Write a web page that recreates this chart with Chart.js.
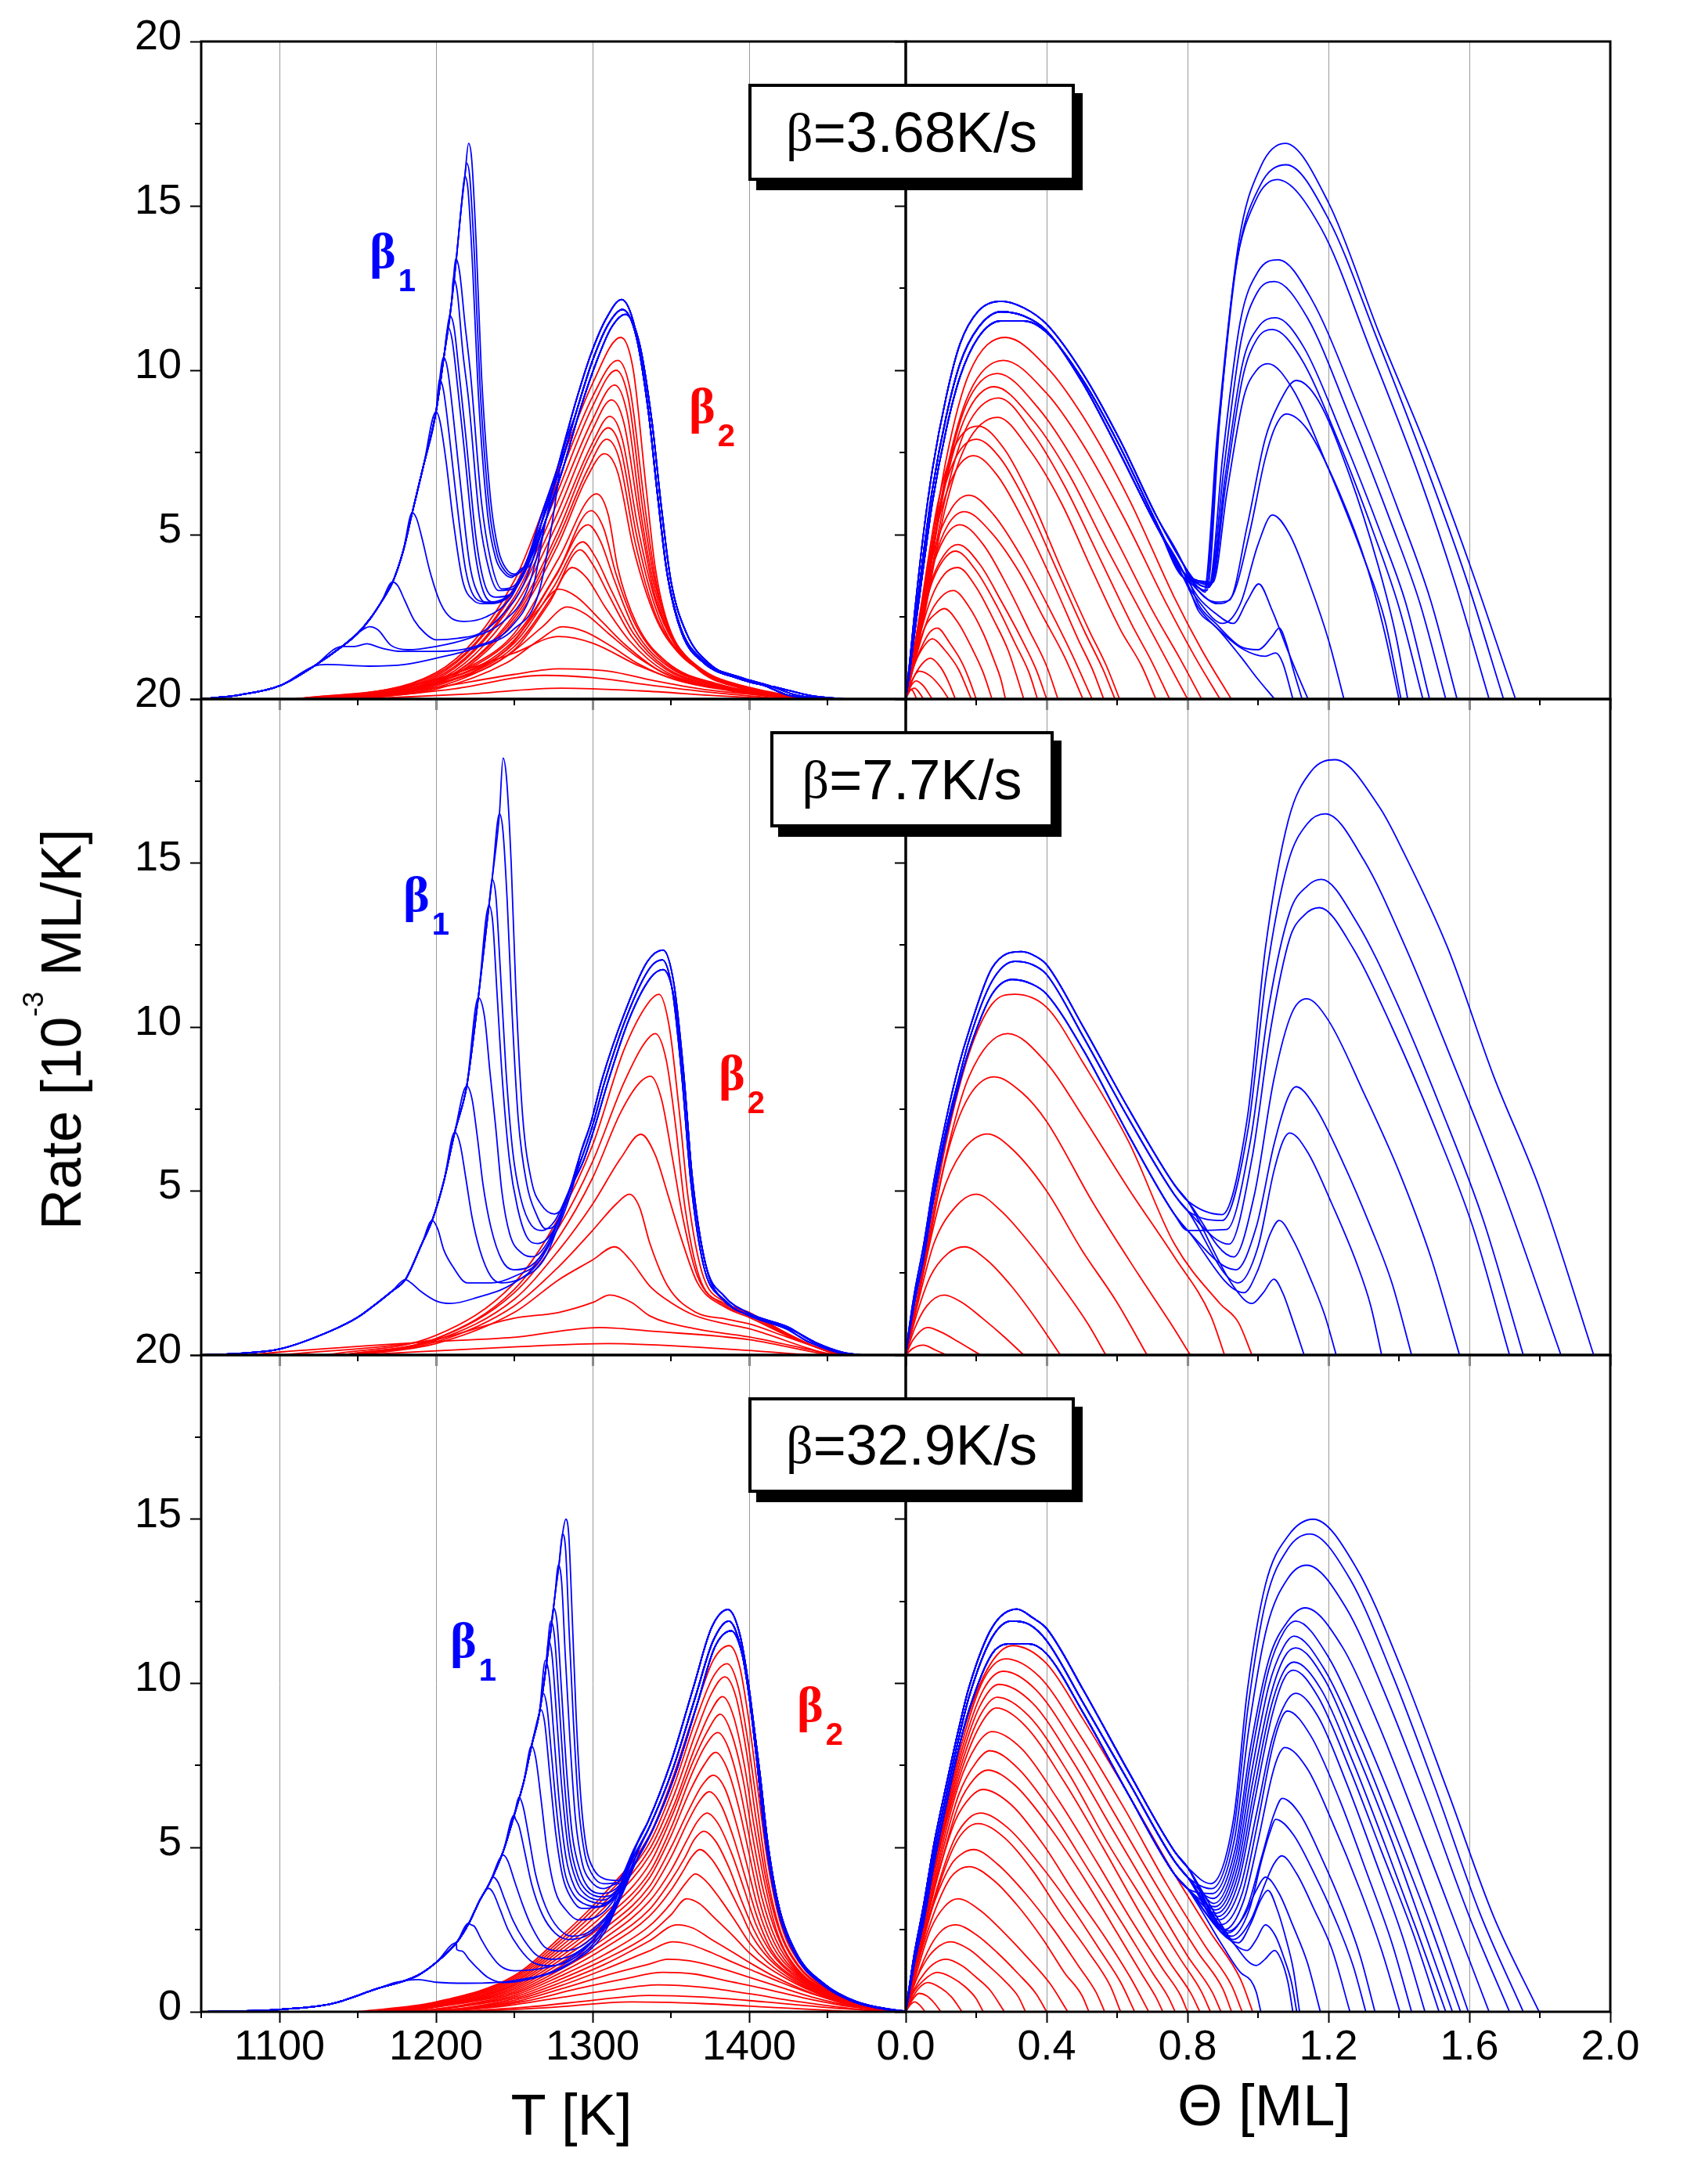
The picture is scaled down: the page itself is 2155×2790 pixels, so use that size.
<!DOCTYPE html>
<html>
<head>
<meta charset="utf-8">
<title>Desorption rate vs T and coverage</title>
<script src="https://cdn.jsdelivr.net/npm/chart.js@4.4.1/dist/chart.umd.min.js"></script>
<style>
  html, body { margin: 0; padding: 0; background: #fff; }
  body { position: relative; width: 2155px; height: 2790px; overflow: hidden;
         font-family: "Liberation Sans", Arial, sans-serif; color: #000; }
  canvas { position: absolute; }
  .rate-box { position: absolute; z-index: 5; box-sizing: border-box; border: 4px solid #000;
              background: #fff; box-shadow: 10px 12px 0 #000; display: flex;
              align-items: center; justify-content: center; font-size: 72px; line-height: 1; }
  .rate-box .g { font-family: "Liberation Serif", "DejaVu Serif", serif; font-size: 68px; }
  .peak { position: absolute; z-index: 5; font-family: "Liberation Serif", "DejaVu Serif", serif;
          font-weight: bold; font-size: 64px; line-height: 1; white-space: nowrap; }
  .peak span { font-family: "Liberation Sans", Arial, sans-serif; font-size: 40px;
               position: relative; top: 30px; margin-left: 3px; }
  .blue { color: #0000ff; }
  .red { color: #ff0000; }
  .axis-title { position: absolute; z-index: 5; font-size: 74px; line-height: 1; white-space: nowrap; }
  .sup { font-size: 36px; position: relative; top: -48px; }
</style>
</head>
<body>

<div class="rate-box" style="left:956px;top:107px;width:417px;height:124px"><span class="g">β</span>=3.68K/s</div>
<div class="rate-box" style="left:984px;top:934px;width:362px;height:123px"><span class="g">β</span>=7.7K/s</div>
<div class="rate-box" style="left:956px;top:1785px;width:417px;height:122px"><span class="g">β</span>=32.9K/s</div>

<div class="peak blue" style="left:472px;top:289px">β<span>1</span></div>
<div class="peak red" style="left:880px;top:487px">β<span>2</span></div>
<div class="peak blue" style="left:515px;top:1111px">β<span>1</span></div>
<div class="peak red" style="left:918px;top:1339px">β<span>2</span></div>
<div class="peak blue" style="left:575px;top:2064px">β<span>1</span></div>
<div class="peak red" style="left:1018px;top:2146px">β<span>2</span></div>

<div class="axis-title" style="left:730px;top:2665px;transform:translateX(-50%)">T [K]</div>
<div class="axis-title" style="left:1615px;top:2653px;transform:translateX(-50%)">Θ [ML]</div>
<div class="axis-title" style="font-size:72px;left:78px;top:1315px;transform:translate(-50%,-50%) rotate(-90deg)">Rate [10<span class="sup">-3</span> ML/K]</div>

<script>
// axes
const tempTicks = [1100, 1200, 1300, 1400];
const tempMinor = [1050, 1150, 1250, 1350, 1450];
const covTicks = [0, 0.4, 0.8, 1.2, 1.6, 2.0];
const covMinor = [0.2, 0.6, 1.0, 1.4, 1.8];
const rateTicks = [0, 5, 10, 15, 20];
const rateMinor = [2.5, 7.5, 12.5, 17.5];

// ---------- beta = 3.68 K/s, rate vs T ----------
const tlBlueEdge = [[1050,0],[1075,0.13],[1100,0.4],[1122,1.0],[1140,1.6],[1150,2.0],[1158,2.45],[1165,2.95],[1172.3,3.56],[1179,4.5],[1184.8,5.67],[1192,7.1],[1200,8.74],[1205,10.4],[1210,12.1],[1213,13.4],[1216,14.9],[1218.4,15.9],[1220.8,16.9]];
const tlBlueHead = [
  [[1220.8,16.9],[1222.8,16.4],[1225.7,13.8],[1229,9.9],[1235,6.0],[1240,4.5],[1245,3.95],[1250,3.8],[1256,4.0]],
  [[1219.5,16.3],[1221.5,15.9],[1224.5,13.5],[1228,9.6],[1234,5.8],[1239,4.4],[1244,3.9],[1249,3.75],[1256,4.0]],
  [[1218.4,15.9],[1220.4,15.5],[1223.5,13.0],[1227,9.3],[1233,5.6],[1238,4.3],[1243,3.85],[1248,3.7],[1256,4.0]],
  [[1212.6,13.4],[1215,13.0],[1218.5,11.4],[1222,9.9],[1229,6.0],[1235,4.2],[1242,3.35],[1250,3.45],[1258,4.1]],
  [[1211,12.8],[1213.5,12.4],[1217,10.6],[1221,9.0],[1227.5,5.6],[1234,3.9],[1240,3.3],[1249,3.35],[1258,4.1]],
  [[1209,11.65],[1211.5,11.3],[1215,9.8],[1219,8.0],[1225.5,4.9],[1231,3.5],[1238,3.1],[1248,3.2],[1258,4.05]],
  [[1207.7,11.3],[1210.2,10.95],[1214,9.4],[1218,7.6],[1224.5,4.6],[1230,3.3],[1237,2.95],[1247,3.15],[1258,4.0]],
  [[1204.8,10.4],[1207.3,10.05],[1211,8.6],[1215,6.8],[1221.5,4.1],[1228,3.1],[1235,2.9],[1246,3.1],[1258,4.0]],
  [[1202.2,9.72],[1204.7,9.4],[1208.5,8.0],[1212.5,6.3],[1219,3.9],[1225.5,3.05],[1232,2.95],[1245,3.1],[1258,4.0]],
  [[1200,8.74],[1202.5,8.45],[1206.5,7.2],[1210.5,5.6],[1217,3.6],[1224,3.0],[1230,2.9],[1244,3.05],[1258,4.0]],
  [[1184.8,5.67],[1187.5,5.5],[1191,4.9],[1196,3.9],[1203,2.9],[1210,2.45],[1218,2.36],[1232,2.5],[1248,3.1],[1260,4.3]],
  [[1172.3,3.56],[1175.5,3.45],[1180,3.0],[1186,2.4],[1193,2.0],[1200,1.8],[1214,1.85],[1228,2.0],[1243,2.6],[1256,3.5],[1266,5.0]],
  [[1157.5,2.2],[1163,2.1],[1171,1.64],[1182,1.5],[1200,1.6],[1220,1.83],[1243,2.36],[1258,3.3],[1268,5.0]],
  [[1148,1.6],[1155.7,1.68],[1165,1.55],[1178,1.45],[1200,1.45],[1225,1.6],[1248,2.2],[1262,3.4],[1270,5.4]],
  [[1130,1.05],[1157,1.0],[1180,1.05],[1200,1.24],[1226,1.57],[1249,2.1],[1266,3.3],[1278,6.6]]
];
const tlBlueB2 = [
  [[1256,4.0],[1267,5.3],[1279,7.0],[1290,8.8],[1300,10.3],[1310,11.4],[1319,11.85],[1328,11.0],[1336,8.6],[1342,6.0],[1348,3.7],[1357,2.0],[1371,1.1],[1395,0.6],[1410,0.4],[1424,0.13],[1440,0]],
  [[1256,4.1],[1266,5.4],[1278,7.1],[1289,9.0],[1299,10.5],[1309,11.6],[1318.5,12.15],[1327,11.3],[1335,9.0],[1341,6.4],[1347,4.0],[1356,2.2],[1370,1.2],[1395,0.65],[1412,0.42],[1430,0.12],[1450,0]],
  [[1258,4.0],[1269,5.3],[1281,7.0],[1292,8.8],[1302,10.2],[1312,11.3],[1321,11.7],[1330,10.8],[1338,8.4],[1344,5.8],[1350,3.6],[1360,2.0],[1374,1.1],[1398,0.55],[1418,0.35],[1440,0.1],[1462,0]]
];
const tlBlueVar = [1,0,2,0,1,2,0,2,1,0,2,0,1,2,0];
const tlRed = [
  [[1110,0],[1200,0.8],[1250,3.6],[1275,6.6],[1300,9.6],[1318,11.0],[1326,10.0],[1334,6.5],[1340,4.0],[1348,2.3],[1366,1.0],[1395,0.33],[1425,0]],
  [[1110,0],[1200,0.75],[1250,3.4],[1275,6.3],[1300,9.2],[1316,10.3],[1324,9.4],[1333,6.0],[1340,3.7],[1348,2.2],[1366,0.95],[1395,0.32],[1428,0]],
  [[1115,0],[1200,0.7],[1250,3.3],[1275,6.0],[1300,8.9],[1315,10.0],[1323,9.1],[1332,5.8],[1340,3.5],[1350,2.0],[1367,0.95],[1395,0.35],[1430,0]],
  [[1115,0],[1200,0.65],[1250,3.1],[1275,5.7],[1300,8.5],[1314,9.55],[1322,8.7],[1331,5.6],[1340,3.3],[1350,1.9],[1368,0.9],[1398,0.35],[1432,0]],
  [[1120,0],[1200,0.6],[1250,3.0],[1277,5.6],[1300,8.2],[1312,9.1],[1320,8.4],[1330,5.5],[1340,3.1],[1352,1.8],[1370,0.9],[1400,0.35],[1435,0]],
  [[1120,0],[1200,0.55],[1250,2.8],[1277,5.3],[1300,7.8],[1311,8.6],[1319,7.9],[1329,5.2],[1340,3.0],[1352,1.7],[1370,0.85],[1400,0.32],[1435,0]],
  [[1125,0],[1200,0.5],[1252,2.7],[1278,5.1],[1298,7.4],[1310,8.25],[1318,7.6],[1328,5.0],[1340,2.8],[1352,1.6],[1372,0.8],[1402,0.3],[1438,0]],
  [[1125,0],[1200,0.5],[1252,2.6],[1278,4.9],[1297,7.0],[1309,7.9],[1317,7.3],[1327,4.8],[1340,2.6],[1354,1.5],[1372,0.8],[1402,0.3],[1438,0]],
  [[1130,0],[1200,0.45],[1252,2.5],[1278,4.7],[1296,6.7],[1307.5,7.46],[1316,6.9],[1326,4.6],[1340,2.5],[1354,1.45],[1374,0.75],[1405,0.3],[1440,0]],
  [[1130,0],[1200,0.6],[1222,1.0],[1250,2.0],[1278,4.25],[1302.6,6.24],[1310,5.6],[1316,4.0],[1328,2.3],[1348,1.1],[1380,0.46],[1424,0.07],[1440,0]],
  [[1130,0],[1200,0.55],[1250,1.9],[1278,3.9],[1299,5.73],[1307,5.2],[1315,3.8],[1328,2.2],[1348,1.05],[1380,0.45],[1425,0.06],[1440,0]],
  [[1135,0],[1200,0.5],[1250,1.8],[1276,3.7],[1297,5.3],[1305,4.8],[1314,3.6],[1327,2.1],[1348,1.0],[1380,0.42],[1430,0]],
  [[1135,0],[1200,0.5],[1250,1.7],[1275,3.4],[1293.6,4.78],[1302,4.3],[1312,3.3],[1326,2.0],[1347,0.95],[1380,0.4],[1430,0]],
  [[1140,0],[1200,0.45],[1250,1.6],[1275,3.2],[1292,4.54],[1300,4.1],[1311,3.1],[1325,1.9],[1347,0.9],[1380,0.38],[1430,0]],
  [[1140,0],[1200,0.45],[1250,1.5],[1272,2.9],[1287,4.0],[1296,3.7],[1308,2.8],[1324,1.75],[1346,0.85],[1380,0.35],[1430,0]],
  [[1140,0],[1200,0.4],[1245,1.5],[1265,2.7],[1278.5,3.34],[1290,3.1],[1305,2.4],[1322,1.6],[1345,0.8],[1380,0.33],[1430,0]],
  [[1145,0],[1200,0.35],[1245,1.3],[1268,2.2],[1283.7,2.8],[1295,2.6],[1310,2.0],[1328,1.3],[1350,0.7],[1385,0.3],[1430,0]],
  [[1145,0],[1200,0.3],[1245,1.1],[1266,1.8],[1281,2.2],[1295,2.05],[1312,1.6],[1330,1.05],[1352,0.6],[1388,0.25],[1430,0]],
  [[1150,0],[1200,0.6],[1250,1.4],[1278.5,1.9],[1300,1.7],[1330,1.0],[1360,0.5],[1400,0.2],[1430,0]],
  [[1150,0],[1200,0.35],[1250,0.75],[1278.5,0.92],[1310,0.85],[1340,0.55],[1370,0.3],[1410,0.1],[1430,0]],
  [[1150,0],[1210,0.3],[1269,0.72],[1300,0.65],[1340,0.4],[1380,0.18],[1425,0]],
  [[1150,0],[1220,0.15],[1280,0.33],[1330,0.25],[1380,0.1],[1420,0]]
];

// ---------- beta = 3.68 K/s, rate vs coverage ----------
const trBlueHump = [
  [[0,0],[0.012,1.0],[0.025,2.2],[0.05,4.4],[0.076,6.4],[0.115,8.6],[0.154,10.2],[0.206,11.3],[0.27,11.78],[0.335,11.65],[0.4,11.2],[0.503,9.6],[0.607,7.5],[0.71,5.3],[0.788,3.86]],
  [[0,0],[0.012,1.2],[0.025,2.6],[0.05,5.0],[0.076,7.0],[0.115,9.2],[0.154,10.8],[0.206,11.8],[0.27,12.1],[0.335,11.9],[0.4,11.4],[0.503,9.9],[0.607,7.9],[0.71,5.6],[0.788,4.1]],
  [[0,0],[0.012,0.9],[0.025,2.0],[0.05,4.0],[0.076,6.0],[0.115,8.2],[0.154,9.8],[0.206,11.0],[0.27,11.5],[0.335,11.5],[0.4,11.15],[0.503,9.7],[0.607,7.7],[0.71,5.4],[0.788,3.7]]
];
const trBlueTail = [
  [[0.83,3.4],[0.855,3.3],[0.892,8.6],[0.944,13.8],[1.008,16.2],[1.077,16.9],[1.2,15.1],[1.345,11.1],[1.487,7.4],[1.604,4.0],[1.731,0]],
  [[0.83,3.4],[0.85,3.25],[0.888,8.2],[0.94,13.3],[1.005,15.6],[1.08,16.25],[1.2,14.6],[1.34,10.9],[1.48,7.0],[1.59,3.7],[1.697,0]],
  [[0.83,3.4],[0.847,3.3],[0.884,8.0],[0.935,13.0],[0.995,15.2],[1.054,15.8],[1.18,14.3],[1.32,10.6],[1.46,6.7],[1.56,3.5],[1.656,0]],
  [[0.83,3.5],[0.86,3.4],[0.9,7.4],[0.95,11.5],[1.0,13.0],[1.058,13.36],[1.15,12.2],[1.28,9.0],[1.4,5.7],[1.49,3.0],[1.565,0]],
  [[0.83,3.5],[0.862,3.4],[0.903,7.0],[0.952,10.9],[0.997,12.35],[1.047,12.7],[1.14,11.6],[1.26,8.6],[1.38,5.3],[1.46,2.9],[1.533,0]],
  [[0.83,3.55],[0.865,3.45],[0.906,6.7],[0.956,10.2],[1.0,11.3],[1.05,11.6],[1.13,10.7],[1.24,8.0],[1.35,5.0],[1.42,2.9],[1.487,0]],
  [[0.83,3.6],[0.868,3.5],[0.908,6.5],[0.957,9.8],[0.997,10.95],[1.041,11.24],[1.12,10.4],[1.23,7.8],[1.33,5.0],[1.40,2.8],[1.468,0]],
  [[0.83,3.6],[0.872,3.55],[0.912,6.3],[0.96,9.2],[0.996,10.0],[1.028,10.2],[1.1,9.4],[1.2,7.0],[1.3,4.3],[1.36,2.4],[1.406,0]],
  [[0.83,3.3],[0.88,2.95],[0.918,3.0],[0.97,5.3],[1.02,7.9],[1.06,9.0],[1.109,9.69],[1.17,9.1],[1.26,6.8],[1.34,4.1],[1.39,2.0],[1.425,0]],
  [[0.83,3.3],[0.885,2.9],[0.925,3.1],[0.975,5.0],[1.02,7.3],[1.05,8.3],[1.08,8.67],[1.14,8.2],[1.23,6.3],[1.31,4.0],[1.36,2.0],[1.40,0]],
  [[0.83,3.0],[0.9,2.3],[0.95,2.9],[1.0,4.7],[1.041,5.6],[1.09,5.0],[1.15,3.4],[1.2,1.8],[1.244,0]],
  [[0.83,3.1],[0.88,2.6],[0.93,2.3],[0.97,3.0],[1.002,3.5],[1.04,2.7],[1.08,1.6],[1.11,0.8],[1.142,0]],
  [[0.83,2.9],[0.88,2.3],[0.95,1.6],[1.0,1.5],[1.04,1.9],[1.06,2.16],[1.08,1.7],[1.1,0.9],[1.125,0]],
  [[0.83,2.8],[0.9,2.0],[0.96,1.5],[1.02,1.3],[1.05,1.4],[1.07,1.1],[1.099,0]],
  [[0.83,2.7],[0.88,2.2],[0.95,1.3],[1.0,0.6],[1.047,0]]
];
const trBlueVar = [1,0,2,0,1,2,0,2,1,0,2,0,1,2,0];
const trRed = [
  [[0,0],[0.05,3.0],[0.115,7.3],[0.18,9.9],[0.283,11.0],[0.4,10.1],[0.503,8.6],[0.633,6.1],[0.762,3.1],[0.84,1.5],[0.924,0]],
  [[0,0],[0.05,2.8],[0.115,6.9],[0.18,9.3],[0.277,10.3],[0.4,9.3],[0.5,7.8],[0.62,5.5],[0.74,2.9],[0.82,1.3],[0.892,0]],
  [[0,0],[0.05,2.7],[0.11,6.5],[0.17,8.9],[0.26,9.9],[0.38,8.8],[0.48,7.2],[0.6,4.8],[0.7,2.7],[0.78,1.2],[0.84,0]],
  [[0,0],[0.05,2.7],[0.11,6.4],[0.17,8.6],[0.251,9.5],[0.36,8.5],[0.46,6.9],[0.57,4.6],[0.67,2.6],[0.74,1.2],[0.80,0]],
  [[0,0],[0.05,2.5],[0.11,6.0],[0.17,8.2],[0.264,9.16],[0.36,8.1],[0.45,6.5],[0.55,4.3],[0.64,2.3],[0.70,1.1],[0.749,0]],
  [[0,0],[0.05,2.4],[0.11,5.7],[0.17,7.7],[0.261,8.57],[0.35,7.6],[0.44,6.0],[0.53,3.9],[0.61,2.1],[0.67,1.0],[0.71,0]],
  [[0,0],[0.04,2.6],[0.09,5.9],[0.14,7.7],[0.206,8.3],[0.28,7.6],[0.36,6.0],[0.44,4.0],[0.52,2.1],[0.57,1.0],[0.607,0]],
  [[0,0],[0.04,2.5],[0.09,5.6],[0.14,7.3],[0.2,7.9],[0.27,7.3],[0.35,5.8],[0.43,3.9],[0.51,2.0],[0.56,0.9],[0.594,0]],
  [[0,0],[0.04,2.4],[0.09,5.3],[0.14,6.9],[0.193,7.4],[0.26,6.8],[0.34,5.3],[0.42,3.5],[0.49,1.8],[0.53,0.9],[0.562,0]],
  [[0,0],[0.035,2.1],[0.08,4.5],[0.13,5.8],[0.18,6.2],[0.25,5.6],[0.33,4.3],[0.41,2.7],[0.47,1.4],[0.529,0]],
  [[0,0],[0.035,2.0],[0.08,4.2],[0.12,5.3],[0.167,5.7],[0.24,5.1],[0.32,3.9],[0.39,2.5],[0.45,1.3],[0.503,0]],
  [[0,0],[0.03,1.8],[0.07,3.8],[0.11,4.9],[0.154,5.3],[0.22,4.7],[0.29,3.4],[0.35,2.1],[0.4,1.0],[0.432,0]],
  [[0,0],[0.03,1.7],[0.07,3.5],[0.11,4.4],[0.148,4.7],[0.21,4.1],[0.27,3.0],[0.33,1.8],[0.37,0.9],[0.40,0]],
  [[0,0],[0.03,1.6],[0.07,3.4],[0.105,4.2],[0.141,4.5],[0.2,3.9],[0.26,2.8],[0.31,1.7],[0.35,0.8],[0.374,0]],
  [[0,0],[0.03,1.5],[0.07,3.0],[0.11,3.8],[0.148,4.0],[0.2,3.4],[0.25,2.4],[0.29,1.5],[0.315,0.7],[0.335,0]],
  [[0,0],[0.03,1.3],[0.065,2.5],[0.1,3.1],[0.135,3.3],[0.18,2.8],[0.22,2.0],[0.25,1.2],[0.27,0.6],[0.283,0]],
  [[0,0],[0.025,1.2],[0.055,2.2],[0.085,2.6],[0.109,2.75],[0.15,2.3],[0.19,1.5],[0.22,0.8],[0.245,0]],
  [[0,0],[0.02,0.9],[0.05,1.7],[0.07,2.05],[0.09,2.16],[0.125,1.7],[0.16,1.1],[0.18,0.6],[0.2,0]],
  [[0,0],[0.02,0.9],[0.045,1.5],[0.076,1.83],[0.11,1.5],[0.15,0.9],[0.186,0]],
  [[0,0],[0.02,0.6],[0.045,1.05],[0.07,1.24],[0.1,0.95],[0.12,0.55],[0.141,0]],
  [[0,0],[0.015,0.5],[0.038,0.85],[0.07,0.7],[0.1,0.35],[0.122,0]],
  [[0,0],[0.015,0.4],[0.03,0.55],[0.05,0.4],[0.075,0]],
  [[0,0],[0.012,0.25],[0.025,0.33],[0.038,0.2],[0.05,0]],
  [[0,0],[0.012,0.3],[0.02,0.25],[0.031,0]]
];

// ---------- beta = 7.7 K/s, rate vs T ----------
const mlBlueEdge = [[1050,0],[1075,0.05],[1100,0.18],[1133,0.74],[1150,1.15],[1162,1.57],[1172,1.95],[1180.4,2.3],[1191,3.4],[1197.5,4.1],[1205,5.3],[1212,6.8],[1219.6,8.2],[1227,10.9],[1233.8,13.7],[1235.8,14.5],[1240.5,16.5],[1242.8,18.2]];
const mlBlueHead = [
  [[1242.8,18.2],[1245,17.6],[1248,15.0],[1251,11.1],[1255.3,7.3],[1261,5.3],[1267,4.6],[1275.6,4.3],[1282,4.6]],
  [[1240.5,16.5],[1242.7,16.0],[1245.5,13.8],[1248.5,10.5],[1252.5,7.2],[1258,5.2],[1264,4.3],[1270,3.85],[1277,4.0],[1284,4.9]],
  [[1235.8,14.5],[1238.2,14.0],[1241,11.8],[1244.5,8.8],[1249,6.2],[1254,4.8],[1261,3.95],[1268,3.8],[1276,4.1],[1284,4.9]],
  [[1233.8,13.7],[1236.2,13.2],[1239,11.0],[1242.5,8.3],[1247,5.9],[1252,4.5],[1258,3.6],[1265,3.4],[1275,3.8],[1285,5.0]],
  [[1227,10.9],[1231,10.3],[1234.5,8.6],[1238,7.0],[1242,5.0],[1247,3.7],[1255,3.1],[1262,3.0],[1272,3.5],[1285,5.0]],
  [[1219.6,8.2],[1223,7.8],[1226.5,6.6],[1230,5.2],[1235,3.9],[1242,2.9],[1249.5,2.6],[1260,2.7],[1272,3.4],[1286,5.1]],
  [[1212,6.8],[1215.5,6.4],[1219,5.4],[1223,4.2],[1228,3.2],[1235,2.4],[1242,2.2],[1255,2.35],[1270,3.0],[1287,5.2]],
  [[1197.5,4.1],[1201,3.85],[1205,3.2],[1210,2.75],[1220,2.2],[1235,2.2],[1250,2.4],[1268,3.0],[1288,5.3]],
  [[1180.4,2.3],[1184,2.2],[1190,1.95],[1200,1.65],[1209,1.57],[1226,1.75],[1250,2.2],[1268,3.0],[1289,5.4]]
];
const mlBlueB2 = [
  [[1282,4.6],[1293,6.0],[1300,7.0],[1307.5,8.3],[1322,10.35],[1336.6,11.8],[1344.5,12.05],[1351,11.1],[1357,8.5],[1362.7,5.3],[1371,2.7],[1383,1.7],[1400,1.2],[1423.6,0.8],[1438,0.4],[1455,0.1],[1468,0]],
  [[1281,4.7],[1292,6.1],[1299,7.1],[1306,8.4],[1321,10.5],[1335,12.0],[1345,12.35],[1352,11.3],[1358,8.7],[1363.5,5.5],[1372,2.8],[1384,1.8],[1401,1.25],[1425,0.85],[1440,0.42],[1457,0.1],[1470,0]],
  [[1283,4.5],[1294,5.9],[1301,6.9],[1309,8.2],[1323,10.2],[1337,11.5],[1345,11.75],[1352,10.9],[1358.5,8.3],[1364,5.2],[1373,2.6],[1386,1.6],[1404,1.15],[1428,0.75],[1444,0.35],[1460,0.08],[1472,0]]
];
const mlBlueVar = [1,0,2,0,1,2,0,2,1];
const mlRed = [
  [[1130,0],[1200,0.6],[1250,2.2],[1278.5,4.2],[1300,6.4],[1320,9.3],[1335,10.7],[1342.4,11.0],[1349,10.0],[1355,7.6],[1361,4.8],[1370,2.5],[1385,1.6],[1400,1.3],[1424,0.67],[1445,0.2],[1460,0]],
  [[1140,0],[1200,0.5],[1250,2.0],[1278.5,3.9],[1300,5.9],[1320,8.3],[1333,9.5],[1340,9.8],[1347,9.0],[1353,7.0],[1359,4.5],[1368,2.4],[1385,1.55],[1400,1.25],[1424,0.65],[1445,0.2],[1458,0]],
  [[1140,0],[1200,0.5],[1250,1.9],[1278.5,3.6],[1300,5.4],[1318,7.4],[1330,8.3],[1337,8.5],[1344,7.8],[1351,6.0],[1358,4.1],[1367,2.4],[1385,1.5],[1400,1.2],[1424,0.63],[1445,0.2],[1458,0]],
  [[1145,0],[1200,0.45],[1250,1.7],[1278.5,3.2],[1300,4.6],[1318,6.0],[1330.8,6.73],[1340,6.1],[1348,4.9],[1357,3.5],[1367,2.2],[1385,1.45],[1400,1.15],[1424,0.6],[1445,0.2],[1456,0]],
  [[1145,0],[1200,0.4],[1250,1.5],[1278.5,2.7],[1300,3.8],[1315,4.6],[1323.5,4.9],[1330,4.5],[1336.6,3.4],[1348,2.1],[1366,1.3],[1385,1.1],[1400,0.95],[1424,0.55],[1450,0.12],[1458,0]],
  [[1150,0],[1200,0.35],[1250,1.3],[1278.5,2.3],[1300,2.9],[1314,3.3],[1324,2.9],[1336.6,2.1],[1350,1.6],[1365.6,1.2],[1385,0.95],[1400,0.8],[1438,0.2],[1452,0]],
  [[1100,0],[1200,0.48],[1249.5,1.12],[1278.5,1.3],[1300,1.6],[1311,1.83],[1325,1.6],[1336.6,1.19],[1365.6,0.8],[1400,0.55],[1440,0.15],[1455,0]],
  [[1080,0],[1100,0.09],[1200,0.41],[1249.5,0.54],[1304.6,0.84],[1336.6,0.73],[1400,0.47],[1440,0.1],[1453,0]],
  [[1150,0],[1250,0.25],[1310,0.35],[1380,0.2],[1440,0]]
];

// ---------- beta = 7.7 K/s, rate vs coverage ----------
const mrBlueHump = [
  [[0,0],[0.012,0.9],[0.025,1.7],[0.05,3.0],[0.08,5.0],[0.115,6.9],[0.15,8.4],[0.18,9.6],[0.245,11.4],[0.31,12.0],[0.36,11.9],[0.4,11.6],[0.504,9.7],[0.633,7.2],[0.762,4.9],[0.8,4.4]],
  [[0,0],[0.012,1.0],[0.025,1.9],[0.05,3.3],[0.08,5.3],[0.115,7.2],[0.15,8.8],[0.18,9.9],[0.245,11.8],[0.329,12.3],[0.37,12.15],[0.4,11.9],[0.504,10.0],[0.633,7.5],[0.762,5.2],[0.8,4.7]],
  [[0,0],[0.012,0.8],[0.025,1.6],[0.05,2.9],[0.08,4.8],[0.115,6.7],[0.15,8.2],[0.18,9.3],[0.245,11.0],[0.303,11.45],[0.36,11.3],[0.4,11.0],[0.504,9.3],[0.633,6.7],[0.762,4.3],[0.8,3.8]]
];
const mrBlueTail = [
  [[0.898,4.28],[0.97,7.25],[1.021,12.4],[1.086,16.3],[1.151,17.8],[1.219,18.15],[1.345,16.7],[1.41,15.4],[1.539,12.4],[1.669,8.5],[1.8,5.06],[1.953,0]],
  [[0.898,4.1],[0.972,6.9],[1.024,11.6],[1.085,15.0],[1.14,16.2],[1.192,16.5],[1.3,15.1],[1.42,12.4],[1.55,9.0],[1.7,4.9],[1.86,0]],
  [[0.911,3.83],[0.978,6.5],[1.032,10.7],[1.09,13.5],[1.14,14.3],[1.18,14.5],[1.28,13.2],[1.4,10.6],[1.52,7.5],[1.64,4.1],[1.753,0]],
  [[0.918,3.38],[0.983,6.0],[1.037,10.0],[1.09,12.7],[1.13,13.4],[1.174,13.64],[1.27,12.4],[1.38,10.0],[1.5,7.0],[1.61,3.9],[1.714,0]],
  [[0.931,2.99],[0.99,4.9],[1.045,8.4],[1.095,10.4],[1.138,10.86],[1.2,10.2],[1.3,8.0],[1.4,5.6],[1.49,3.0],[1.572,0]],
  [[0.937,2.6],[0.995,3.9],[1.045,6.4],[1.085,7.85],[1.108,8.18],[1.16,7.6],[1.24,5.9],[1.32,3.9],[1.38,2.2],[1.436,0]],
  [[0.944,2.2],[1.0,3.3],[1.045,5.6],[1.072,6.55],[1.09,6.77],[1.14,6.2],[1.21,4.6],[1.28,2.8],[1.32,1.5],[1.351,0]],
  [[0.96,1.9],[1.0,2.6],[1.035,3.7],[1.06,4.1],[1.1,3.5],[1.15,2.3],[1.19,1.2],[1.222,0]],
  [[0.93,2.1],[0.983,1.57],[1.015,1.9],[1.045,2.31],[1.07,1.9],[1.1,1.0],[1.131,0]]
];
const mrBlueVar = [1,0,2,0,1,2,0,2,1];
const mrRed = [
  [[0,0],[0.05,2.7],[0.115,6.5],[0.18,9.2],[0.245,10.7],[0.309,11.0],[0.4,10.6],[0.504,8.9],[0.633,6.5],[0.762,3.4],[0.892,1.57],[0.944,1.0],[0.983,0]],
  [[0,0],[0.05,2.6],[0.115,6.1],[0.18,8.5],[0.29,9.8],[0.4,8.9],[0.504,7.25],[0.633,5.06],[0.762,3.0],[0.866,1.19],[0.905,0]],
  [[0,0],[0.05,2.5],[0.11,5.8],[0.17,7.7],[0.251,8.48],[0.33,8.0],[0.4,7.12],[0.53,4.67],[0.659,2.48],[0.75,1.0],[0.808,0]],
  [[0,0],[0.04,2.0],[0.1,4.8],[0.16,6.2],[0.232,6.74],[0.3,6.3],[0.4,5.0],[0.5,3.2],[0.6,1.6],[0.685,0]],
  [[0,0],[0.035,1.6],[0.08,3.4],[0.14,4.5],[0.2,4.9],[0.27,4.4],[0.36,3.3],[0.45,2.0],[0.52,0.9],[0.568,0]],
  [[0,0],[0.03,1.2],[0.07,2.4],[0.12,3.1],[0.167,3.3],[0.23,2.9],[0.3,2.1],[0.37,1.1],[0.439,0]],
  [[0,0],[0.025,0.8],[0.06,1.5],[0.109,1.83],[0.16,1.6],[0.22,1.1],[0.28,0.55],[0.335,0]],
  [[0,0],[0.02,0.45],[0.063,0.84],[0.1,0.7],[0.15,0.4],[0.212,0]],
  [[0,0],[0.02,0.2],[0.05,0.3],[0.085,0.15],[0.115,0]]
];

// ---------- beta = 32.9 K/s, rate vs T ----------
const blBlueEdge = [[1050,0],[1075,0.02],[1100,0.07],[1133,0.24],[1162,0.7],[1188,1.1],[1200,1.5],[1213,2.1],[1221,2.7],[1228,3.4],[1234,3.9],[1243,4.9],[1250,6.0],[1256,7.0],[1261,8.1],[1266,9.1],[1270,10.4],[1273.3,11.6],[1276,12.7],[1278.5,13.6],[1280.8,14.55],[1282.9,15.0]];
const blBlueHead = [
  [[1282.9,15.0],[1284.8,14.5],[1287,12.0],[1289.5,9.0],[1292.5,6.5],[1296,5.0],[1300,4.4],[1307.5,4.05],[1316,4.0]],
  [[1280.8,14.55],[1282.8,14.05],[1285,11.6],[1287.8,8.8],[1291,6.3],[1295,4.8],[1299.5,4.2],[1307,3.9],[1316,3.95]],
  [[1278,13.6],[1280.2,13.1],[1282.5,10.9],[1285.5,8.3],[1289,5.9],[1293.5,4.5],[1298.5,4.0],[1307,3.75],[1316,3.9]],
  [[1275,12.3],[1277.3,11.85],[1280,9.9],[1283,7.6],[1287,5.4],[1292,4.3],[1297,3.8],[1306,3.6],[1317,3.85]],
  [[1273.3,11.9],[1275.6,11.45],[1278.5,9.5],[1281.5,7.3],[1285.5,5.2],[1290.5,4.15],[1296,3.7],[1306,3.5],[1317,3.8]],
  [[1271.8,11.3],[1274.1,10.85],[1277,9.0],[1280.2,6.9],[1284.5,4.95],[1290,3.95],[1296,3.55],[1306,3.4],[1318,3.8]],
  [[1269.8,10.7],[1272.2,10.25],[1275,8.6],[1278.5,6.5],[1283,4.7],[1288.5,3.8],[1295,3.45],[1306,3.3],[1318,3.75]],
  [[1268.4,9.7],[1270.8,9.3],[1273.8,7.8],[1277.5,5.9],[1282,4.3],[1287.5,3.6],[1294,3.3],[1305,3.2],[1318,3.7]],
  [[1267,9.2],[1269.4,8.8],[1272.5,7.3],[1276.3,5.5],[1281,4.1],[1286.5,3.45],[1293,3.15],[1304,3.2],[1318,3.85]],
  [[1261,8.1],[1263.6,7.75],[1267,6.5],[1271,4.9],[1276,3.7],[1283,3.1],[1291,2.8],[1303,2.9],[1318,3.75]],
  [[1253,6.54],[1255.6,6.25],[1259,5.4],[1263.5,4.2],[1270,3.2],[1278,2.55],[1287,2.3],[1300,2.5],[1316,3.4],[1330,4.8]],
  [[1250.4,5.92],[1253,5.65],[1256.5,4.9],[1261,3.9],[1268,2.95],[1276,2.4],[1285,2.2],[1299,2.4],[1316,3.35],[1330,5.0]],
  [[1243,4.77],[1245.8,4.6],[1250,4.0],[1255,3.3],[1261,2.6],[1270,1.95],[1280,1.85],[1296,2.1],[1314,3.2],[1330,5.3]],
  [[1236.5,4.1],[1239.5,3.95],[1244,3.4],[1249,2.8],[1256,2.2],[1265,1.7],[1276,1.6],[1293,1.9],[1312,2.9],[1330,4.8]],
  [[1233.5,3.76],[1236.5,3.62],[1241,3.1],[1246,2.5],[1253,1.95],[1262,1.5],[1273,1.4],[1290,1.7],[1310,2.8],[1330,5.0]],
  [[1221.3,2.68],[1224.5,2.6],[1229,2.2],[1234,1.8],[1241,1.4],[1250,1.25],[1265,1.3],[1285,1.6],[1308,2.7],[1330,5.3]],
  [[1213.2,1.9],[1216.5,1.85],[1221,1.6],[1227,1.3],[1233,1.05],[1243,0.89],[1260,1.0],[1285,1.45],[1308,2.55],[1330,4.8]],
  [[1175,0.9],[1188.5,0.98],[1200,0.9],[1220,0.87],[1250,0.95],[1280,1.35],[1308,2.45],[1330,5.0]]
];
const blBlueB2 = [
  [[1316,4.0],[1326,4.7],[1336.6,5.66],[1351,7.36],[1365.6,9.58],[1377,11.3],[1387,11.9],[1394.6,11.1],[1400,9.6],[1405,7.6],[1410,5.4],[1418,3.2],[1430,1.7],[1447,0.82],[1467,0.3],[1490,0.05],[1500,0]],
  [[1315,4.1],[1325,4.8],[1335.5,5.8],[1350,7.6],[1364.5,9.9],[1376,11.7],[1386.5,12.25],[1394,11.5],[1399.5,10.0],[1405,7.9],[1410,5.7],[1418,3.4],[1430,1.8],[1448,0.85],[1468,0.32],[1492,0.06],[1500,0.02]],
  [[1318,3.9],[1328,4.6],[1338,5.5],[1352.5,7.2],[1367,9.4],[1378,11.1],[1388.5,11.6],[1396,10.8],[1401.5,9.2],[1407,7.2],[1412,5.1],[1420,3.0],[1432,1.6],[1450,0.75],[1470,0.27],[1495,0.03],[1500,0]]
];
const blBlueVar = [1,0,2,0,1,2,0,2,1,0,2,0,1,2,0,1,2,0];
const blRed = [
  [[1150,0],[1200,0.3],[1250,1.1],[1280,2.3],[1307.5,3.6],[1336.6,5.4],[1351,7.1],[1365.6,9.2],[1377,10.7],[1387.4,11.15],[1394,10.5],[1400,8.8],[1406,6.6],[1412,4.5],[1420,2.7],[1432,1.5],[1450,0.7],[1470,0.25],[1500,0]],
  [[1160,0],[1200,0.28],[1250,1.05],[1280,2.2],[1308,3.5],[1337,5.2],[1352,6.9],[1366,8.9],[1377,10.2],[1386,10.6],[1393,9.9],[1399,8.3],[1405,6.3],[1411,4.3],[1419,2.6],[1431,1.45],[1450,0.68],[1470,0.24],[1500,0]],
  [[1160,0],[1200,0.26],[1250,1.0],[1280,2.1],[1308,3.35],[1337,5.0],[1352,6.6],[1366,8.5],[1376,9.7],[1384.5,10.2],[1391.5,9.6],[1398,8.0],[1404,6.0],[1410.5,4.1],[1419,2.5],[1431,1.4],[1450,0.66],[1470,0.23],[1500,0]],
  [[1165,0],[1200,0.24],[1250,0.95],[1280,2.0],[1308,3.2],[1337,4.8],[1352,6.3],[1365,8.0],[1375,9.1],[1383,9.6],[1390,9.0],[1397,7.5],[1403,5.7],[1410,3.9],[1418,2.4],[1430,1.35],[1450,0.64],[1470,0.22],[1500,0]],
  [[1165,0],[1200,0.22],[1250,0.9],[1280,1.9],[1308,3.0],[1337,4.55],[1351,6.0],[1364,7.6],[1374,8.6],[1381.5,9.06],[1388.5,8.5],[1396,7.1],[1402,5.4],[1409,3.7],[1418,2.3],[1430,1.3],[1450,0.62],[1470,0.22],[1500,0]],
  [[1170,0],[1200,0.2],[1250,0.85],[1280,1.8],[1308,2.85],[1337,4.3],[1351,5.7],[1363,7.2],[1372,8.1],[1380,8.5],[1387,8.0],[1394.5,6.7],[1401,5.1],[1408,3.5],[1417,2.2],[1430,1.25],[1450,0.6],[1470,0.21],[1500,0]],
  [[1170,0],[1200,0.19],[1250,0.8],[1280,1.7],[1308,2.7],[1336,4.05],[1350,5.35],[1362,6.7],[1371,7.5],[1378.5,7.9],[1386,7.4],[1393.5,6.2],[1400,4.8],[1407,3.3],[1416,2.1],[1430,1.2],[1450,0.58],[1470,0.2],[1500,0]],
  [[1175,0],[1200,0.17],[1250,0.75],[1280,1.6],[1308,2.55],[1336,3.8],[1350,5.0],[1362,6.2],[1370,6.9],[1377,7.2],[1384.5,6.8],[1392,5.7],[1399,4.4],[1406,3.1],[1415,2.0],[1430,1.15],[1450,0.56],[1470,0.2],[1500,0]],
  [[1175,0],[1200,0.16],[1250,0.7],[1280,1.5],[1308,2.4],[1336,3.6],[1350,4.7],[1361,5.8],[1368,6.4],[1374.5,6.7],[1382,6.3],[1390,5.3],[1397.5,4.1],[1405,2.9],[1414,1.9],[1430,1.1],[1450,0.54],[1470,0.19],[1500,0]],
  [[1180,0],[1200,0.15],[1250,0.65],[1280,1.4],[1308,2.25],[1336,3.35],[1350,4.3],[1360,5.2],[1367,5.8],[1373,6.05],[1380.5,5.7],[1389,4.8],[1397,3.7],[1404,2.7],[1414,1.8],[1430,1.05],[1450,0.52],[1470,0.18],[1500,0]],
  [[1180,0],[1200,0.14],[1250,0.6],[1280,1.3],[1308,2.1],[1336,3.1],[1350,4.0],[1359,4.7],[1365,5.25],[1371,5.5],[1378.5,5.2],[1387,4.4],[1395,3.4],[1403,2.5],[1413,1.7],[1430,1.0],[1450,0.5],[1470,0.18],[1500,0]],
  [[1185,0],[1210,0.15],[1250,0.55],[1280,1.2],[1308,1.95],[1336,2.9],[1350,3.7],[1358,4.3],[1363,4.7],[1368.5,4.94],[1376,4.65],[1385,3.95],[1394,3.1],[1402,2.3],[1413,1.6],[1430,0.95],[1450,0.48],[1470,0.17],[1500,0]],
  [[1185,0],[1210,0.14],[1250,0.5],[1280,1.1],[1308,1.75],[1336,2.6],[1350,3.3],[1360,3.95],[1365.6,4.2],[1373,3.95],[1382,3.4],[1392,2.7],[1401,2.05],[1412,1.5],[1430,0.9],[1450,0.46],[1470,0.16],[1500,0]],
  [[1190,0],[1210,0.12],[1250,0.45],[1280,1.0],[1308,1.6],[1336,2.35],[1350,2.95],[1360,3.44],[1368,3.3],[1378,2.85],[1390,2.3],[1400,1.8],[1412,1.35],[1430,0.85],[1450,0.44],[1470,0.15],[1500,0]],
  [[1190,0],[1220,0.13],[1250,0.4],[1280,0.9],[1308,1.45],[1336,2.15],[1354,2.65],[1364,2.55],[1376,2.2],[1390,1.8],[1402,1.45],[1415,1.1],[1432,0.72],[1450,0.4],[1470,0.14],[1500,0]],
  [[1195,0],[1220,0.12],[1250,0.35],[1280,0.8],[1308,1.3],[1336,1.85],[1351,2.13],[1362,2.05],[1376,1.8],[1390,1.5],[1405,1.2],[1420,0.9],[1440,0.55],[1460,0.28],[1480,0.1],[1500,0]],
  [[1195,0],[1220,0.1],[1250,0.3],[1280,0.7],[1308,1.1],[1336,1.45],[1348,1.6],[1362,1.55],[1380,1.35],[1400,1.05],[1420,0.75],[1440,0.45],[1465,0.18],[1500,0]],
  [[1200,0],[1230,0.12],[1260,0.35],[1290,0.7],[1320,1.0],[1345,1.2],[1365,1.15],[1385,0.95],[1410,0.7],[1435,0.42],[1465,0.15],[1500,0]],
  [[1200,0],[1240,0.15],[1275,0.4],[1310,0.65],[1342,0.82],[1370,0.75],[1400,0.55],[1430,0.32],[1465,0.1],[1500,0]],
  [[1210,0],[1260,0.15],[1300,0.35],[1336,0.5],[1370,0.45],[1410,0.3],[1450,0.13],[1490,0]],
  [[1220,0],[1270,0.12],[1325,0.3],[1370,0.25],[1420,0.12],[1470,0]]
];

// ---------- beta = 32.9 K/s, rate vs coverage ----------
const brBlueHump = [
  [[0,0],[0.012,0.8],[0.025,1.6],[0.05,2.9],[0.08,4.8],[0.115,6.6],[0.15,8.3],[0.18,9.6],[0.245,11.4],[0.3,11.9],[0.35,11.8],[0.4,11.3],[0.504,9.4],[0.633,7.0],[0.762,4.6],[0.8,4.1]],
  [[0,0],[0.012,0.9],[0.025,1.8],[0.05,3.2],[0.08,5.1],[0.115,6.9],[0.15,8.6],[0.18,9.9],[0.245,11.7],[0.316,12.26],[0.36,12.0],[0.4,11.67],[0.504,9.8],[0.633,7.3],[0.762,4.9],[0.8,4.4]],
  [[0,0],[0.012,0.7],[0.025,1.5],[0.05,2.7],[0.08,4.5],[0.115,6.3],[0.15,8.0],[0.18,9.2],[0.245,10.9],[0.29,11.2],[0.35,11.2],[0.4,10.9],[0.504,9.1],[0.633,6.6],[0.762,4.2],[0.8,3.75]]
];
const brBlueTail = [
  [[0.866,3.9],[0.931,5.9],[0.97,9.8],[1.021,13.0],[1.086,14.5],[1.157,15.0],[1.28,13.5],[1.41,10.37],[1.539,6.7],[1.669,2.9],[1.798,0]],
  [[0.868,3.75],[0.932,5.6],[0.972,9.3],[1.022,12.5],[1.085,14.1],[1.147,14.55],[1.26,13.2],[1.38,10.3],[1.5,6.9],[1.63,3.0],[1.753,0]],
  [[0.87,3.6],[0.934,5.3],[0.975,8.7],[1.025,11.7],[1.085,13.2],[1.138,13.6],[1.25,12.3],[1.36,9.7],[1.48,6.4],[1.6,2.9],[1.714,0]],
  [[0.872,3.45],[0.936,5.0],[0.978,8.0],[1.03,10.7],[1.085,11.9],[1.134,12.3],[1.24,11.1],[1.34,8.8],[1.45,5.8],[1.56,2.7],[1.656,0]],
  [[0.875,3.3],[0.938,4.8],[0.98,7.7],[1.03,10.4],[1.075,11.6],[1.107,11.9],[1.2,10.8],[1.3,8.5],[1.41,5.6],[1.51,2.7],[1.597,0]],
  [[0.878,3.2],[0.94,4.6],[0.982,7.3],[1.03,9.9],[1.072,11.1],[1.102,11.44],[1.19,10.4],[1.29,8.1],[1.39,5.4],[1.49,2.6],[1.575,0]],
  [[0.88,3.1],[0.942,4.4],[0.985,7.0],[1.035,9.6],[1.075,10.8],[1.107,11.08],[1.19,10.1],[1.28,7.9],[1.38,5.2],[1.47,2.5],[1.552,0]],
  [[0.883,3.0],[0.944,4.2],[0.988,6.7],[1.035,9.2],[1.072,10.35],[1.102,10.65],[1.18,9.8],[1.27,7.6],[1.36,5.1],[1.45,2.5],[1.533,0]],
  [[0.886,2.9],[0.946,4.0],[0.99,6.4],[1.037,8.9],[1.072,10.1],[1.1,10.4],[1.17,9.6],[1.26,7.4],[1.35,4.9],[1.44,2.4],[1.514,0]],
  [[0.89,2.8],[0.95,3.8],[0.995,6.0],[1.04,8.3],[1.078,9.4],[1.107,9.7],[1.17,9.0],[1.25,7.0],[1.33,4.7],[1.41,2.3],[1.474,0]],
  [[0.895,2.65],[0.955,3.6],[0.998,5.7],[1.04,8.0],[1.065,8.9],[1.083,9.16],[1.15,8.4],[1.23,6.5],[1.31,4.2],[1.38,2.1],[1.436,0]],
  [[0.905,2.5],[0.96,3.4],[1.0,5.2],[1.04,7.2],[1.06,7.85],[1.076,8.05],[1.14,7.4],[1.21,5.8],[1.29,3.7],[1.35,1.9],[1.403,0]],
  [[0.915,2.4],[0.97,3.2],[1.01,4.7],[1.045,6.0],[1.069,6.5],[1.12,6.0],[1.18,4.7],[1.24,3.2],[1.29,1.7],[1.332,0]],
  [[0.925,2.3],[0.975,3.1],[1.01,4.6],[1.035,5.5],[1.05,5.86],[1.1,5.4],[1.16,4.2],[1.22,2.8],[1.27,1.4],[1.306,0]],
  [[0.93,2.2],[0.98,2.8],[1.02,3.9],[1.045,4.5],[1.067,4.75],[1.11,4.2],[1.16,3.1],[1.21,1.9],[1.261,0]],
  [[0.918,2.46],[0.96,2.9],[0.995,3.7],[1.021,4.1],[1.06,3.6],[1.1,2.6],[1.14,1.5],[1.177,0]],
  [[0.944,2.1],[0.98,2.7],[1.005,3.35],[1.028,3.7],[1.055,3.1],[1.08,2.2],[1.1,1.3],[1.118,0]],
  [[0.97,1.87],[0.995,2.2],[1.021,2.65],[1.05,2.3],[1.075,1.6],[1.095,0.9],[1.11,0]],
  [[0.93,2.1],[0.995,1.41],[1.02,1.6],[1.047,1.87],[1.065,1.6],[1.085,0.9],[1.099,0]],
  [[0.9,2.0],[0.95,1.2],[0.98,0.95],[0.995,0.6],[1.008,0]]
];
const brBlueVar = [1,0,2,0,1,2,0,2,1,0,2,0,1,2,0,1,2,0,1,2];
const brRed = [
  [[0,0],[0.04,2.3],[0.1,5.6],[0.16,8.4],[0.23,10.4],[0.303,11.15],[0.4,10.6],[0.504,8.9],[0.633,6.6],[0.762,4.2],[0.866,2.4],[0.95,1.0],[0.985,0]],
  [[0,0],[0.04,2.3],[0.1,5.5],[0.16,8.2],[0.22,10.1],[0.283,10.75],[0.38,10.2],[0.49,8.5],[0.62,6.2],[0.74,3.9],[0.85,2.0],[0.925,0.8],[0.955,0]],
  [[0,0],[0.04,2.2],[0.1,5.4],[0.16,8.0],[0.22,9.8],[0.277,10.37],[0.37,9.8],[0.48,8.1],[0.6,5.9],[0.72,3.7],[0.83,1.8],[0.9,0.7],[0.925,0]],
  [[0,0],[0.04,2.2],[0.1,5.3],[0.16,7.8],[0.21,9.3],[0.264,9.97],[0.36,9.4],[0.47,7.7],[0.59,5.5],[0.7,3.5],[0.8,1.7],[0.87,0.6],[0.895,0]],
  [[0,0],[0.04,2.1],[0.1,5.2],[0.16,7.6],[0.21,9.0],[0.26,9.58],[0.35,9.0],[0.46,7.3],[0.57,5.2],[0.68,3.3],[0.78,1.6],[0.84,0.6],[0.865,0]],
  [[0,0],[0.04,2.1],[0.1,5.1],[0.16,7.4],[0.21,8.7],[0.257,9.25],[0.34,8.7],[0.45,7.0],[0.56,5.0],[0.66,3.1],[0.75,1.5],[0.81,0.55],[0.835,0]],
  [[0,0],[0.04,2.0],[0.1,4.9],[0.15,6.9],[0.2,8.1],[0.245,8.53],[0.33,8.0],[0.43,6.5],[0.54,4.6],[0.64,2.8],[0.73,1.3],[0.78,0.5],[0.80,0]],
  [[0,0],[0.04,1.9],[0.1,4.7],[0.15,6.6],[0.2,7.6],[0.238,7.95],[0.32,7.4],[0.42,6.0],[0.52,4.3],[0.62,2.6],[0.7,1.2],[0.745,0.45],[0.765,0]],
  [[0,0],[0.04,1.9],[0.1,4.5],[0.15,6.3],[0.195,7.1],[0.232,7.36],[0.31,6.9],[0.41,5.6],[0.51,4.0],[0.6,2.4],[0.67,1.15],[0.71,0.45],[0.73,0]],
  [[0,0],[0.035,1.7],[0.09,4.1],[0.14,5.8],[0.185,6.55],[0.219,6.77],[0.3,6.3],[0.39,5.1],[0.48,3.6],[0.57,2.2],[0.64,1.0],[0.69,0]],
  [[0,0],[0.035,1.6],[0.09,3.8],[0.14,5.3],[0.18,5.9],[0.212,6.05],[0.29,5.6],[0.38,4.5],[0.47,3.2],[0.55,1.9],[0.61,0.9],[0.65,0]],
  [[0,0],[0.035,1.55],[0.09,3.7],[0.14,5.1],[0.175,5.6],[0.206,5.73],[0.28,5.3],[0.36,4.3],[0.44,3.0],[0.52,1.8],[0.58,0.8],[0.61,0]],
  [[0,0],[0.03,1.4],[0.08,3.3],[0.13,4.5],[0.165,4.85],[0.193,4.94],[0.26,4.5],[0.34,3.6],[0.42,2.5],[0.49,1.4],[0.54,0.6],[0.565,0]],
  [[0,0],[0.03,1.3],[0.08,3.0],[0.125,4.05],[0.155,4.35],[0.18,4.42],[0.25,4.0],[0.32,3.2],[0.39,2.2],[0.45,1.2],[0.5,0.5],[0.52,0]],
  [[0,0],[0.03,1.15],[0.07,2.5],[0.11,3.2],[0.148,3.44],[0.21,3.1],[0.28,2.4],[0.35,1.6],[0.41,0.85],[0.46,0]],
  [[0,0],[0.03,1.0],[0.07,2.0],[0.105,2.5],[0.141,2.65],[0.2,2.35],[0.26,1.8],[0.32,1.15],[0.37,0.55],[0.40,0]],
  [[0,0],[0.025,0.85],[0.06,1.6],[0.095,2.0],[0.128,2.13],[0.18,1.9],[0.23,1.45],[0.28,0.95],[0.32,0.45],[0.34,0]],
  [[0,0],[0.025,0.7],[0.055,1.2],[0.085,1.5],[0.115,1.6],[0.16,1.4],[0.2,1.05],[0.24,0.65],[0.28,0]],
  [[0,0],[0.02,0.55],[0.05,0.95],[0.089,1.2],[0.13,1.05],[0.17,0.75],[0.2,0.4],[0.22,0]],
  [[0,0],[0.02,0.45],[0.04,0.75],[0.063,0.89],[0.1,0.72],[0.13,0.45],[0.16,0]],
  [[0,0],[0.015,0.3],[0.038,0.56],[0.06,0.48],[0.08,0.28],[0.1,0]],
  [[0,0],[0.012,0.2],[0.025,0.3],[0.04,0.2],[0.055,0]]
];

const BLUE = '#0000ff';
const RED = '#ff0000';

Chart.defaults.font.family = '"Liberation Sans", Arial, sans-serif';

// blue T-curve: shared leading edge up to its own beta1 peak, own part, then shared beta2 peak
function tempBlue(edge, head, b2) {
  const t0 = head[0][0], t1 = head[head.length - 1][0];
  return edge.filter(p => p[0] < t0).concat(head, b2.filter(p => p[0] > t1));
}

// blue coverage-curve: shared first hump, then its own tail
function covBlue(hump, tail) {
  return hump.filter(p => p[0] < tail[0][0]).concat(tail);
}

function line(pts, color) {
  return {
    data: pts.map(p => ({ x: p[0], y: p[1] })),
    borderColor: color,
    borderWidth: 1.8,
    pointRadius: 0,
    cubicInterpolationMode: 'monotone',
    fill: false,
    order: color === BLUE ? 0 : 1
  };
}

function tempSet(edge, heads, b2, vars, reds) {
  return reds.map(c => line(c, RED))
    .concat(heads.map((h, i) => line(tempBlue(edge, h, b2[vars[i]]), BLUE)));
}

function covSet(humps, tails, vars, reds) {
  return reds.map(c => line(c, RED))
    .concat(tails.map((t, i) => line(covBlue(humps[vars[i]], t), BLUE)));
}

// box round the plot + minor ticks
const frame = {
  id: 'frame',
  afterDraw(chart, args, o) {
    const { ctx, chartArea: a } = chart;
    const xs = chart.scales.x, ys = chart.scales.y;
    ctx.save();
    ctx.strokeStyle = '#000';
    ctx.lineWidth = 2;
    ctx.beginPath();
    o.xMinor.forEach(v => {
      const px = Math.round(xs.getPixelForValue(v));
      ctx.moveTo(px, a.bottom);
      ctx.lineTo(px, a.bottom + 8);
    });
    o.yMinor.forEach(v => {
      const py = Math.round(ys.getPixelForValue(v));
      ctx.moveTo(a.left, py);
      ctx.lineTo(a.left - 8, py);
    });
    ctx.stroke();
    ctx.lineWidth = 3;
    ctx.strokeRect(a.left, a.top, a.right - a.left, a.bottom - a.top);
    ctx.restore();
  }
};

function panel(o) {
  const padL = o.isTemp ? 257 : 60;
  const padR = 60, padT = 50;
  const padB = o.labelX ? 200 : 50;
  const cv = document.createElement('canvas');
  cv.width = 900 + padL + padR;
  cv.height = o.h + padT + padB;
  cv.style.left = (o.x - padL) + 'px';
  cv.style.top = (o.y - padT) + 'px';
  document.body.appendChild(cv);

  const xt = o.isTemp ? tempTicks : covTicks;
  new Chart(cv, {
    type: 'line',
    data: { datasets: o.datasets },
    options: {
      responsive: false,
      animation: false,
      devicePixelRatio: 1,
      events: [],
      layout: { padding: { left: 0, right: padR, top: padT, bottom: 0 } },
      plugins: {
        legend: { display: false },
        tooltip: { enabled: false },
        frame: { xMinor: o.isTemp ? tempMinor : covMinor, yMinor: rateMinor }
      },
      scales: {
        x: {
          type: 'linear',
          min: o.isTemp ? 1050 : 0,
          max: o.isTemp ? 1500 : 2,
          afterBuildTicks: s => { s.ticks = xt.map(v => ({ value: v })); },
          afterFit: s => { s.height = padB; },
          border: { display: false },
          grid: { color: '#999999', lineWidth: 1, tickLength: 14, tickColor: '#000', tickWidth: 2 },
          ticks: {
            display: o.labelX, autoSkip: false, maxRotation: 0, padding: 0, color: '#000',
            font: { size: 54 },
            callback: v => o.isTemp ? String(v) : v.toFixed(1)
          }
        },
        y: {
          type: 'linear',
          min: 0,
          max: 20,
          afterBuildTicks: s => { s.ticks = rateTicks.map(v => ({ value: v })); },
          afterFit: s => { s.width = padL; },
          border: { display: false },
          grid: { drawOnChartArea: false, tickLength: 14, tickColor: '#000', tickWidth: 2, color: '#000' },
          ticks: {
            display: o.isTemp, padding: 11, labelOffset: -5, color: '#000',
            font: { size: 54 },
            callback: v => (v === 0 && !o.labelX) ? '' : String(v)
          }
        }
      }
    },
    plugins: [frame]
  });
}

panel({ isTemp: true, labelX: false, x: 257, y: 53, h: 840,
        datasets: tempSet(tlBlueEdge, tlBlueHead, tlBlueB2, tlBlueVar, tlRed) });
panel({ isTemp: false, labelX: false, x: 1157, y: 53, h: 840,
        datasets: covSet(trBlueHump, trBlueTail, trBlueVar, trRed) });
panel({ isTemp: true, labelX: false, x: 257, y: 893, h: 838,
        datasets: tempSet(mlBlueEdge, mlBlueHead, mlBlueB2, mlBlueVar, mlRed) });
panel({ isTemp: false, labelX: false, x: 1157, y: 893, h: 838,
        datasets: covSet(mrBlueHump, mrBlueTail, mrBlueVar, mrRed) });
panel({ isTemp: true, labelX: true, x: 257, y: 1731, h: 839,
        datasets: tempSet(blBlueEdge, blBlueHead, blBlueB2, blBlueVar, blRed) });
panel({ isTemp: false, labelX: true, x: 1157, y: 1731, h: 839,
        datasets: covSet(brBlueHump, brBlueTail, brBlueVar, brRed) });
</script>
</body>
</html>
